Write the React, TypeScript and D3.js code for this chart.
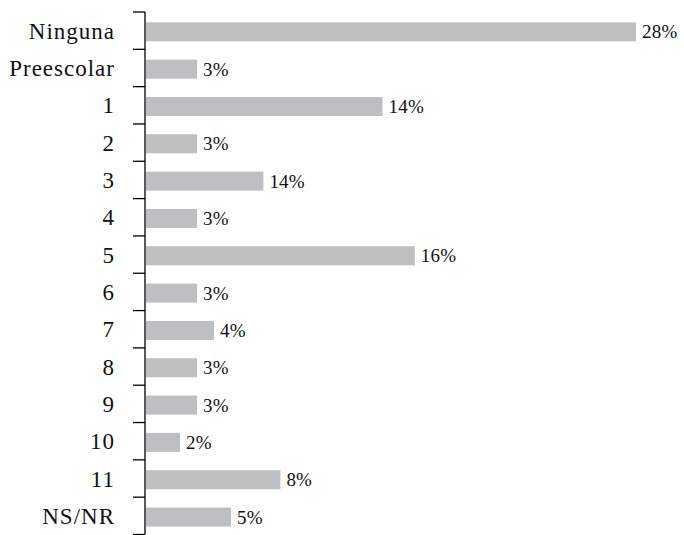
import React, { useEffect, useRef } from 'react';
import * as d3 from 'd3';

const categories = ['Ninguna', 'Preescolar', '1', '2', '3', '4', '5', '6', '7', '8', '9', '10', '11', 'NS/NR'];
// bar lengths as drawn (percent)
const values = [28.8, 3.0, 13.9, 3.0, 6.9, 3.0, 15.8, 3.0, 4.0, 3.0, 3.0, 2.0, 7.9, 5.0];
// value labels as printed
const valueLabels = ['28%', '3%', '14%', '3%', '14%', '3%', '16%', '3%', '4%', '3%', '3%', '2%', '8%', '5%'];

const width = 684;
const height = 535;

const App: React.FC = () => {
  const svgRef = useRef<SVGSVGElement>(null);

  useEffect(() => {
    if (!svgRef.current) return;
    const svg = d3.select(svgRef.current);
    svg.selectAll('*').remove();

    const axisX = 145;
    const y = d3.scaleBand<string>()
      .domain(categories)
      .range([12, 534.5])
      .paddingInner(0.49)
      .paddingOuter(0.245);
    const x = d3.scaleLinear()
      .domain([0, 28.8])
      .range([axisX + 1, 636]);

    const font = 'Liberation Serif, Times New Roman, serif';

    // bars
    svg.append('g')
      .selectAll('rect')
      .data(categories)
      .enter().append('rect')
      .attr('x', x(0))
      .attr('y', d => (y(d) as number) + 1.2)
      .attr('width', (d, i) => x(values[i]) - x(0))
      .attr('height', y.bandwidth())
      .attr('fill', '#bebfc1');

    // value labels
    svg.append('g')
      .selectAll('text')
      .data(categories)
      .enter().append('text')
      .attr('x', (d, i) => x(values[i]) + 6)
      .attr('y', d => (y(d) as number) + 1.2 + y.bandwidth() / 2 + 6.5)
      .style('font-family', font)
      .style('font-size', '19px')
      .style('letter-spacing', '0.2px')
      .attr('fill', '#111')
      .text((d, i) => valueLabels[i]);

    // axis line and ticks at band boundaries
    const step = y.step();
    const [r0, r1] = y.range();
    const g = svg.append('g');
    g.append('line')
      .attr('x1', axisX).attr('x2', axisX)
      .attr('y1', r0).attr('y2', r1)
      .attr('stroke', '#000').attr('stroke-width', 1.3);
    g.selectAll('line.tick')
      .data(d3.range(categories.length + 1))
      .enter().append('line')
      .attr('class', 'tick')
      .attr('x1', axisX - 12).attr('x2', axisX)
      .attr('y1', i => r0 + i * step)
      .attr('y2', i => r0 + i * step)
      .attr('stroke', '#000').attr('stroke-width', 1.3);

    // category labels
    svg.append('g')
      .selectAll('text')
      .data(categories)
      .enter().append('text')
      .attr('x', 115)
      .attr('y', d => (y(d) as number) + y.bandwidth() / 2 + 8)
      .attr('text-anchor', 'end')
      .style('font-family', font)
      .style('font-size', '23px')
      .style('letter-spacing', '1px')
      .attr('fill', '#111')
      .text(d => d);
  }, []);

  return (
    <svg
      ref={svgRef}
      width={width}
      height={height}
      style={{ position: 'absolute', left: 0, top: 0, background: '#fff' }}
    />
  );
};

export default App;
